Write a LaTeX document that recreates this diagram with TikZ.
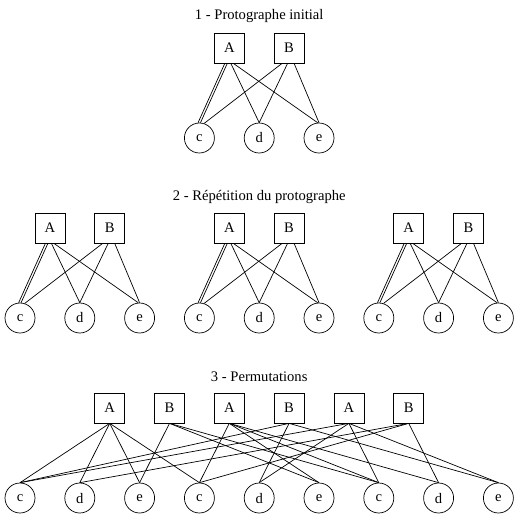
\documentclass[tikz,border=0pt]{standalone}
\usepackage{fontspec}
\setmainfont{Liberation Serif}
\begin{document}
\begin{tikzpicture}[x=1pt,y=-1pt,
  lbl/.style={font=\fontsize{14.6}{17}\selectfont},
  chk/.style={draw, line width=0.7pt, minimum size=30pt, inner sep=0pt, lbl},
  var/.style={draw, circle, line width=0.7pt, minimum size=30pt, inner sep=0pt, lbl},
  ttl/.style={lbl, inner sep=0pt},
  edge/.style={line width=0.7pt}]
\useasboundingbox (0,0) rectangle (525,520);
% titles
\node[ttl] (t1) at (259.2,16.5) {1 - Protographe initial};
\node[ttl] (t2) at (259.2,196.5) {2 - Répétition du protographe};
\node[ttl] (t3) at (259.2,376.5) {3 - Permutations};
% protographs (1 and 2)
\foreach \n/\ox/\oy in {p/199.4/48, a/20/228, b/199.4/228, c/378.8/228}{
  \node[chk] (\n-A) at (\ox+29.9,\oy) {A};
  \node[chk] (\n-B) at (\ox+89.7,\oy) {B};
  \node[var] (\n-c) at (\ox,\oy+90) {c};
  \node[var] (\n-d) at (\ox+59.8,\oy+90) {d};
  \node[var] (\n-e) at (\ox+119.6,\oy+90) {e};
  \draw[edge] ([xshift=-4.5pt]\n-A.south) -- (\n-c.95);
  \draw[edge] ([xshift=-2pt]\n-A.south) -- (\n-c.86);
  \draw[edge] ([xshift=1.5pt]\n-A.south) -- (\n-d.north);
  \draw[edge] ([xshift=4pt]\n-A.south) -- (\n-e.95);
  \draw[edge] ([xshift=-7pt]\n-B.south) -- (\n-c.72);
  \draw[edge] ([xshift=-1.5pt]\n-B.south) -- (\n-d.north);
  \draw[edge] ([xshift=5pt]\n-B.south) -- (\n-e.90);
}
% permutations (3)
\foreach \i/\t in {1/A,2/B,3/A,4/B,5/A,6/B}{
  \node[chk] (X\i) at ({20+59.8*(\i+0.5)},408) {\t};
}
\foreach \i/\t in {1/c,2/d,3/e,4/c,5/d,6/e,7/c,8/d,9/e}{
  \node[var] (V\i) at ({20+59.8*(\i-1)},498) {\t};
}
\foreach \s/\d in {1/1,1/2,1/3,1/4,
                   2/3,2/6,2/7,
                   3/4,3/6,3/7,3/8,
                   4/1,4/5,4/9,
                   5/1,5/5,5/7,5/9,
                   6/4,6/2,6/8}{
  \draw[edge] (X\s.south) -- (V\d.north);
}
\end{tikzpicture}
\end{document}
